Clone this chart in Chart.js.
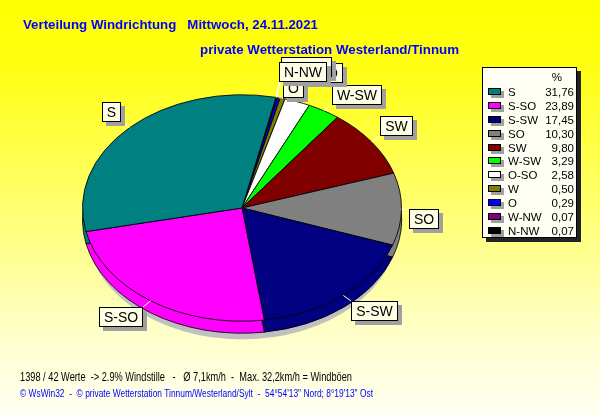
<!DOCTYPE html>
<html>
<head>
<meta charset="utf-8">
<script src="https://cdn.jsdelivr.net/npm/chart.js@4.4.1/dist/chart.umd.min.js"></script>
<style>
body { margin: 0; }
#page {
  position: relative; width: 600px; height: 415px; overflow: hidden;
  background: linear-gradient(to bottom, #ffff00 0%, #ffff10 15%, #ffff70 50%, #ffffc8 80%, #fffff4 100%);
  font-family: "Liberation Sans", Arial, sans-serif;
}
#pie { position: absolute; left: 0; top: 0; }
.txt { position: absolute; white-space: pre; transform-origin: 0 50%; height: 16px; line-height: 16px; }
.title { color: #0000ff; font-weight: bold; font-size: 13px; }
#legend {
  position: absolute; left: 482px; top: 67px; width: 95px; height: 171px; box-sizing: border-box;
  border: 1px solid #000; background: #fffff4; box-shadow: 4px 4px 0 #222;
  font-size: 11.5px; color: #000;
}
#legend div { position: absolute; white-space: pre; line-height: 12px; height: 12px; }
#legend .sw { width: 13px; height: 7px; box-sizing: border-box; border: 1px solid #000; box-shadow: 3px 3px 0 #a0a0a0; }
</style>
</head>
<body>
<div id="page">
  <canvas id="pie" width="600" height="415"></canvas>
  <div id="legend"></div>
  <div class="txt title" id="t1" data-x="23" data-y="25" data-w="295"></div>
  <div class="txt title" id="t2" data-x="200" data-y="50" data-w="259"></div>
  <div class="txt" id="f1" data-x="20" data-y="377" data-w="332" style="font-size:13px;color:#000"></div>
  <div class="txt" id="f2" data-x="20" data-y="394" data-w="353" style="font-size:10px;color:#0000ff"></div>
</div>
<script>
// wind direction shares in percent, legend order
const directions = ['S', 'S-SO', 'S-SW', 'SO', 'SW', 'W-SW', 'O-SO', 'W', 'O', 'W-NW', 'N-NW'];
const shares = [31.76, 23.89, 17.45, 10.30, 9.80, 3.29, 2.58, 0.50, 0.29, 0.07, 0.07];
const sliceColors = ['#008080', '#ff00ff', '#000080', '#808080', '#800000', '#00ff00',
                     '#ffffff', '#808000', '#0000ff', '#800080', '#000000'];

const titleLine1 = 'Verteilung Windrichtung   Mittwoch, 24.11.2021';
const titleLine2 = 'private Wetterstation Westerland/Tinnum';
const footerLine1 = '1398 / 42 Werte  -> 2.9% Windstille   -   Ø 7,1km/h  -  Max. 32,2km/h = Windböen';
const footerLine2 = '© WsWin32  -  © private Wetterstation Tinnum/Westerland/Sylt  -  54°54\'13" Nord; 8°19\'13" Ost';

const tilt = 0.71;   // vertical squash of the pie
const depth = 12;    // height of the 3d side

// slices are laid out counter-clockwise in the original, so reverse for chart.js
const pieLabels = directions.slice().reverse();
const pieValues = shares.slice().reverse();
const pieColors = sliceColors.slice().reverse();

// small hand tweaks for the crowded callouts at the top
const labelNudge = {
  'O-SO': [-8, -13],
  'W': [-5, -9],
  'O': [-4, 6],
  'W-NW': [-4, -15],
  'N-NW': [-5, -9],
};

const tiltedPie = {
  id: 'tiltedPie',
  beforeDatasetsDraw(chart) {
    const ctx = chart.ctx;
    const arcs = chart.getDatasetMeta(0).data;
    const cx = arcs[0].x, cy = arcs[0].y, r = arcs[0].outerRadius;
    ctx.save();
    ctx.translate(cx, cy);
    ctx.scale(1, tilt);
    ctx.translate(-cx, -cy);
    // drop shadow under the pie
    ctx.fillStyle = '#c0c0c0';
    ctx.beginPath();
    ctx.arc(cx, cy + (depth + 9) / tilt, r - 4, 0, Math.PI * 2);
    ctx.fill();
    // side of the pie: same slices moved down
    const d = depth / tilt;
    arcs.forEach((a, i) => {
      ctx.beginPath();
      ctx.moveTo(a.x, a.y + d);
      ctx.arc(a.x, a.y + d, a.outerRadius, a.startAngle, a.endAngle);
      ctx.closePath();
      ctx.fillStyle = pieColors[i];
      ctx.fill();
      ctx.lineWidth = 1;
      ctx.strokeStyle = '#000';
      ctx.stroke();
    });
  },
  afterDatasetsDraw(chart) {
    chart.ctx.restore();
  }
};

const callouts = {
  id: 'callouts',
  afterDraw(chart) {
    const ctx = chart.ctx;
    const arcs = chart.getDatasetMeta(0).data;
    const n = arcs.length;
    ctx.save();
    ctx.font = '14px "Liberation Sans", Arial, sans-serif';
    directions.forEach((name, i) => {
      const a = arcs[n - 1 - i];
      const mid = (a.startAngle + a.endAngle) / 2;
      const c = Math.cos(mid), s = Math.sin(mid);
      const ax = a.x + a.outerRadius * c;
      const ay = a.y + a.outerRadius * tilt * s;
      const w = Math.round(ctx.measureText(name).width + 10);
      const h = 20;
      let bx = c >= 0 ? ax + 8 : ax - 8 - w;
      const gy = 6 * Math.min(1, Math.abs(s) * 3);
      let by = s < 0 ? ay - gy - h : ay + gy;
      const nudge = labelNudge[name];
      if (nudge) { bx += nudge[0]; by += nudge[1]; }
      bx = Math.round(bx); by = Math.round(by);
      const kx = c >= 0 ? bx : bx + w;
      const ky = s < 0 ? by + h : by;
      ctx.strokeStyle = '#ffffff';
      ctx.lineWidth = 1;
      ctx.beginPath();
      ctx.moveTo(ax, ay);
      ctx.lineTo(kx, ky);
      ctx.stroke();
      ctx.fillStyle = '#a0a0a0';
      ctx.fillRect(bx + 4, by + 4, w, h);
      ctx.fillStyle = '#ffffe6';
      ctx.fillRect(bx, by, w, h);
      ctx.strokeStyle = '#000';
      ctx.strokeRect(bx + 0.5, by + 0.5, w - 1, h - 1);
      ctx.fillStyle = '#000';
      ctx.textAlign = 'center';
      ctx.textBaseline = 'middle';
      ctx.fillText(name, bx + w / 2, by + h / 2 + 1);
    });
    ctx.restore();
  }
};

new Chart(document.getElementById('pie'), {
  type: 'pie',
  data: {
    labels: pieLabels,
    datasets: [{
      data: pieValues,
      backgroundColor: pieColors,
      borderColor: '#000',
      borderWidth: 1,
      hoverOffset: 0,
      clip: false,
    }]
  },
  options: {
    responsive: false,
    animation: false,
    events: [],
    rotation: 12.3,
    layout: { padding: { left: 82, right: 198, top: 48, bottom: 47 } },
    plugins: { legend: { display: false }, tooltip: { enabled: false } },
  },
  plugins: [tiltedPie, callouts]
});

// legend box
const legend = document.getElementById('legend');
function addDiv(style, text, cls) {
  const el = document.createElement('div');
  if (cls) el.className = cls;
  Object.assign(el.style, style);
  if (text !== undefined) el.textContent = text;
  legend.appendChild(el);
  return el;
}
addDiv({ right: '14px', top: '3px' }, '%');
directions.forEach((name, i) => {
  const cy = 24.7 + i * 13.83;
  addDiv({ left: '5px', top: (cy - 4.5) + 'px', background: sliceColors[i] }, undefined, 'sw');
  addDiv({ left: '25px', top: (cy - 6.5) + 'px' }, name);
  addDiv({ right: '2px', top: (cy - 6.5) + 'px' }, shares[i].toFixed(2).replace('.', ','));
});

// texts, squeezed to the widths of the original
document.getElementById('t1').textContent = titleLine1;
document.getElementById('t2').textContent = titleLine2;
document.getElementById('f1').textContent = footerLine1;
document.getElementById('f2').textContent = footerLine2;
document.querySelectorAll('.txt').forEach(el => {
  el.style.left = el.dataset.x + 'px';
  el.style.top = (el.dataset.y - 8) + 'px';
  const wid = el.getBoundingClientRect().width;
  el.style.transform = 'scaleX(' + (el.dataset.w / wid) + ')';
});
</script>
</body>
</html>
